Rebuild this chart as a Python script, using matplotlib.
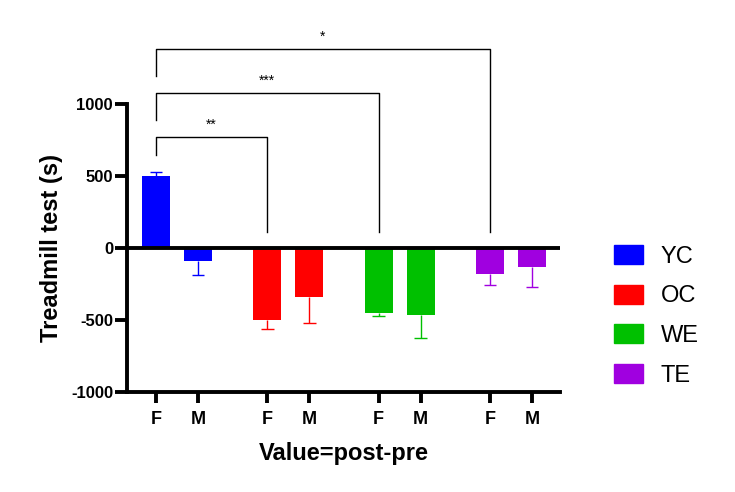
import matplotlib
matplotlib.use('Agg')
from matplotlib import pyplot as plt
from matplotlib.patches import Patch
import numpy as np

plt.rcParams['font.family'] = ['Liberation Sans', 'DejaVu Sans']
plt.rcParams['axes.unicode_minus'] = False

groups = ['YC', 'OC', 'WE', 'TE']
sexes = ['F', 'M']
colors = ['#0000FF', '#FF0000', '#00C000', '#A000E0']
# mean and error (one-sided, away from zero) for F, M in each group
means_f = [500, -500, -453, -183]
means_m = [-90, -338, -463, -130]
err_f = [28, 63, 17, 74]
err_m = [95, 183, 162, 139]

# significance brackets vs YC F
sig_groups = [1, 2, 3]
sig_labels = ['**', '***', '*']
sig_heights = [770, 1075, 1380]

fig = plt.figure(figsize=(7.35, 4.92), dpi=100)
ax = fig.add_axes([0.1728, 0.2033, 0.5892, 0.5853])

step = 2.65
width = 0.67
cap = 0.15
pos_f = np.arange(len(groups)) * step
pos_m = pos_f + 1

for i in range(len(groups)):
    for x, m, e in [(pos_f[i], means_f[i], err_f[i]), (pos_m[i], means_m[i], err_m[i])]:
        ax.bar(x, m, width=width, color=colors[i], zorder=2)
        end = m + np.sign(m) * e
        ax.vlines(x, m, end, color=colors[i], lw=1, zorder=3)
        ax.hlines(end, x - cap, x + cap, color=colors[i], lw=1, zorder=3)

ax.axhline(0, color='black', lw=2.8, zorder=4)

for g, lab, h in zip(sig_groups, sig_labels, sig_heights):
    x1, x2 = pos_f[0], pos_f[g]
    ax.plot([x1, x1, x2, x2], [h - 125 - 60 * (g > 1), h, h, 113], color='black',
            lw=1, clip_on=False)
    ax.text((x1 + x2) / 2, h + 40, lab, ha='center', va='bottom', fontsize=10)

ax.set_xlim(-0.69, pos_m[-1] + 0.67)
ax.set_ylim(-1000, 1000)
ax.set_yticks([-1000, -500, 0, 500, 1000])
ax.set_xticks(np.concatenate([pos_f, pos_m]))
ax.set_xticklabels(['F'] * 4 + ['M'] * 4)
for lab in ax.get_xticklabels():
    lab.set_fontweight('bold')
    lab.set_fontsize(13)
for lab in ax.get_yticklabels():
    lab.set_fontweight('bold')
    lab.set_fontsize(12)

for s in ['top', 'right']:
    ax.spines[s].set_visible(False)
for s in ['left', 'bottom']:
    ax.spines[s].set_linewidth(2.8)
ax.tick_params(axis='y', width=2.8, length=9, pad=1)
ax.tick_params(axis='x', width=2.8, length=8, pad=6)

ax.set_ylabel('Treadmill test (s)', fontsize=17, fontweight='bold', labelpad=6)
ax.set_xlabel('Value=post-pre', fontsize=17, fontweight='bold', labelpad=10)

handles = [Patch(color=c, label=g) for c, g in zip(colors, groups)]
fig.legend(handles=handles, loc='center left', bbox_to_anchor=(0.806, 0.358),
           frameon=False, fontsize=17, handlelength=1.25, handleheight=0.85,
           labelspacing=0.72, handletextpad=0.75)

fig.savefig('out.png', dpi=100)
